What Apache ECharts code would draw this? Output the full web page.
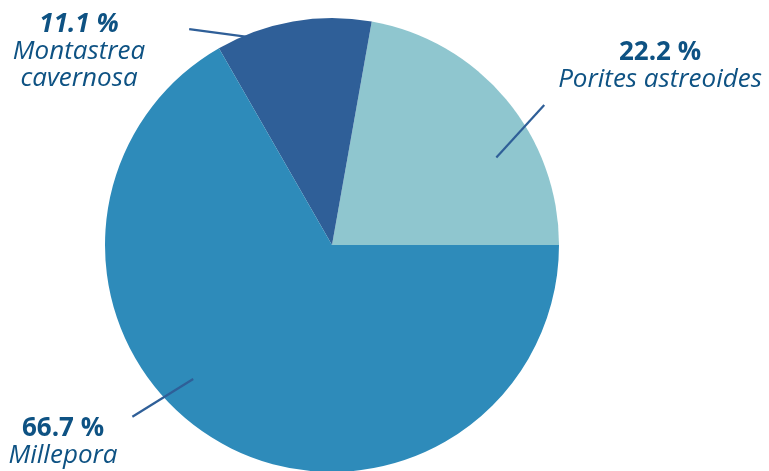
<!DOCTYPE html>
<html>
<head>
<meta charset="utf-8">
<script src="https://cdn.jsdelivr.net/npm/echarts@6/dist/echarts.min.js"></script>
<style>
  html, body { margin: 0; padding: 0; background: #ffffff; }
  #chart { width: 769px; height: 471px; }
</style>
</head>
<body>
<div id="chart"></div>
<script>
// Coral cover composition
const species = ['Porites astreoides', 'Montastrea cavernosa', 'Millepora'];
const shares = [22.2, 11.1, 66.7];
const pctLabels = ['22.2 %', '11.1 %', '66.7 %'];
const nameLines = ['Porites astreoides', 'Montastrea\ncavernosa', 'Millepora'];
const pctStyles = ['pct', 'pcti', 'pct'];
const sliceColors = ['#8fc6cf', '#2f5f98', '#2e8bba'];

const CX = 332, CY = 245, R = 227;
const TEXT = '#0e5283';

// Leader line ends in polar terms around the pie: [angleDeg, radius factor]
const leaderFrom = [[28, 0.82], [110, 0.97], [224, 0.85]];
const leaderTo = [[33.4, 1.12], [123.5, 1.14], [220.7, 1.16]];
// Label block centres
const labelPos = [[660, 66], [79, 52], [63, 442]];

function polar(p) {
  const a = p[0] * Math.PI / 180;
  return [CX + Math.cos(a) * p[1] * R, CY - Math.sin(a) * p[1] * R];
}

const pieData = species.map((s, i) => ({ name: s, value: shares[i] }));
const common = {
  type: 'pie',
  center: [CX, CY],
  radius: R,
  startAngle: 0,
  clockwise: false,
  avoidLabelOverlap: false
};

const chart = echarts.init(document.getElementById('chart'));
chart.setOption({
  animation: false,
  backgroundColor: '#ffffff',
  series: [
    // filled sectors
    Object.assign({}, common, {
      z: 2,
      data: pieData.map((d, i) => Object.assign({}, d, { itemStyle: { color: sliceColors[i] } })),
      label: { show: false },
      labelLine: { show: false }
    }),
    // labels and leader lines, drawn over the sectors
    Object.assign({}, common, {
      z: 3,
      silent: true,
      data: pieData,
      itemStyle: { color: 'rgba(0,0,0,0)' },
      label: {
        show: true,
        position: 'outside',
        formatter: p => '{' + pctStyles[p.dataIndex] + '|' + pctLabels[p.dataIndex] + '}\n{nm|' +
          nameLines[p.dataIndex].split('\n').join('}\n{nm|') + '}',
        rich: {
          pct: { fontFamily: 'Open Sans', fontWeight: 'bold', fontSize: 26, color: TEXT, lineHeight: 27, align: 'center' },
          pcti: { fontFamily: 'Open Sans', fontWeight: 'bold', fontStyle: 'italic', fontSize: 26, color: TEXT, lineHeight: 27, align: 'center' },
          nm: { fontFamily: 'Open Sans', fontStyle: 'italic', fontSize: 26, color: TEXT, lineHeight: 27, align: 'center' }
        }
      },
      labelLine: {
        show: true,
        showAbove: true,
        length: 10,
        length2: 0,
        lineStyle: { color: '#2f5f98', width: 2.2 }
      },
      labelLayout: params => {
        const i = params.dataIndex;
        const a = polar(leaderFrom[i]);
        const b = polar(leaderTo[i]);
        return {
          x: labelPos[i][0],
          y: labelPos[i][1],
          align: 'center',
          verticalAlign: 'middle',
          labelLinePoints: [a, b, b]
        };
      }
    })
  ]
});
</script>
</body>
</html>
